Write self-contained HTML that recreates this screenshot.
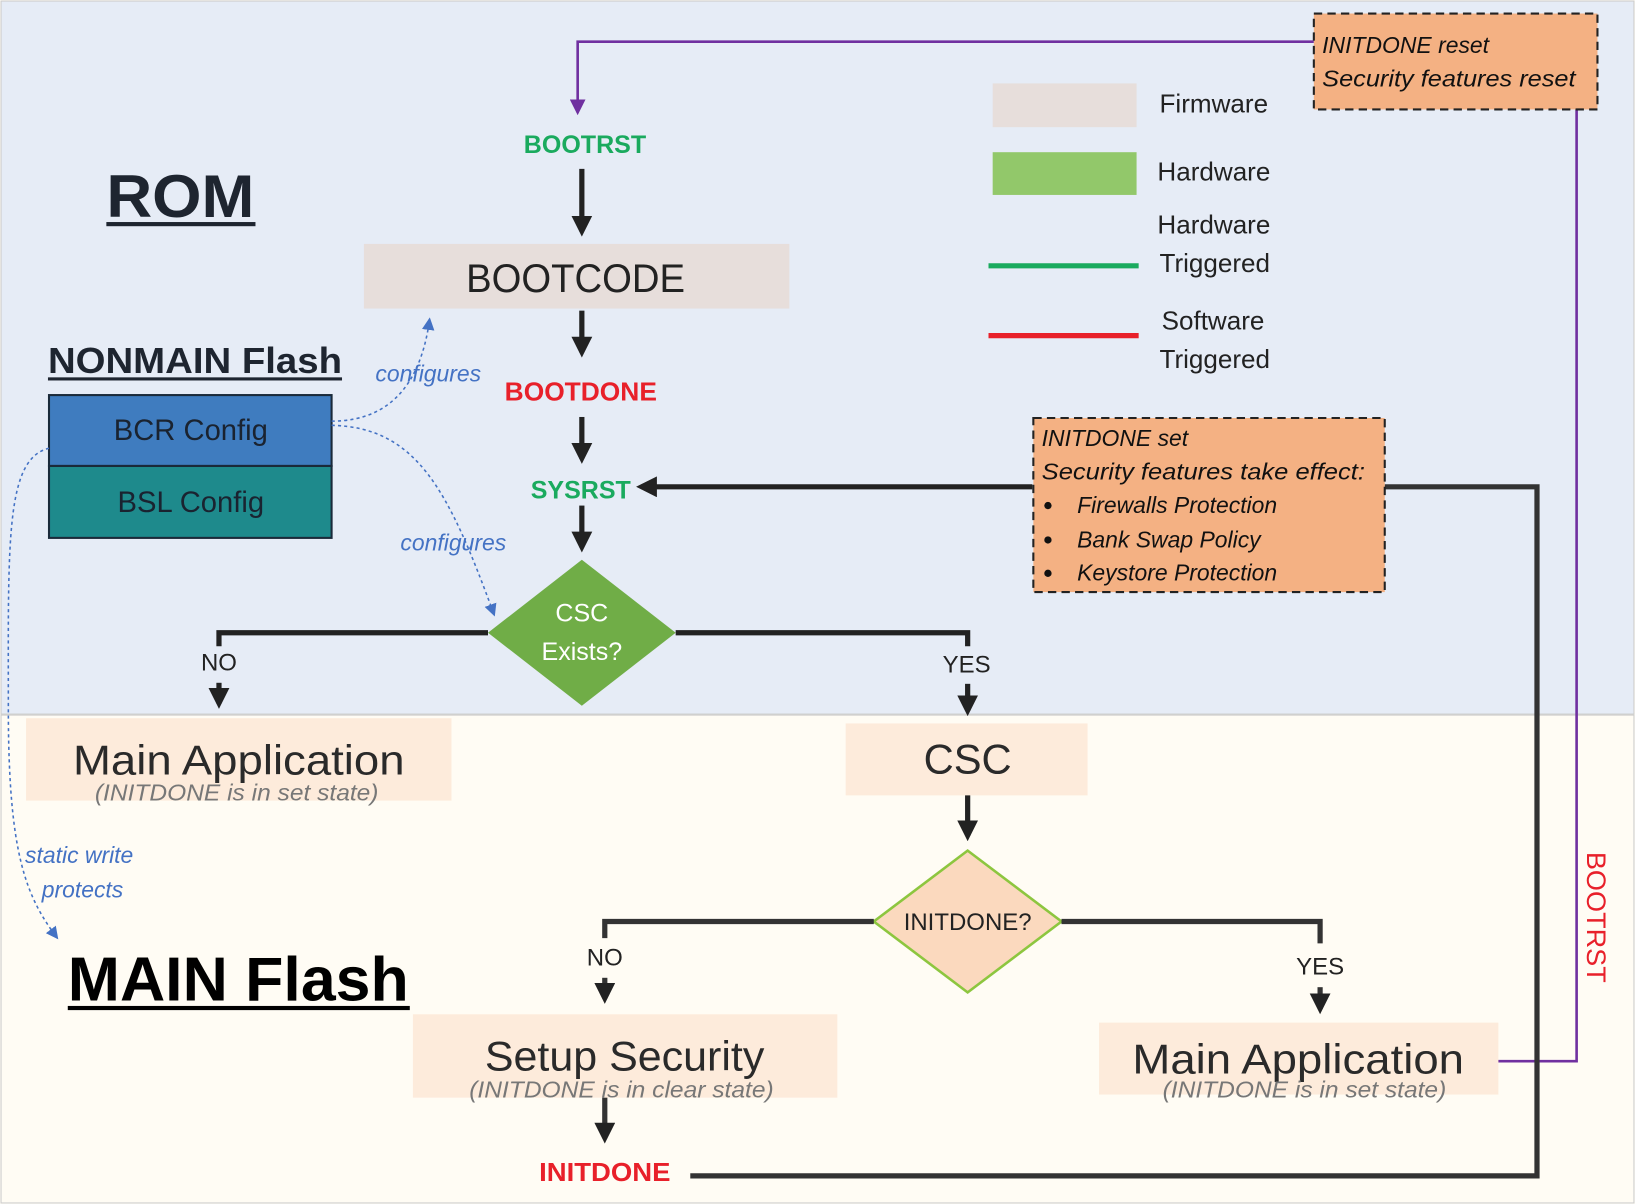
<!DOCTYPE html>
<html><head><meta charset="utf-8"><style>
html,body{margin:0;padding:0;background:#fff;}
svg{display:block;}
text{font-family:"Liberation Sans",sans-serif;}
</style></head><body>
<svg width="1635" height="1204" viewBox="0 0 1568 1155" preserveAspectRatio="none" xmlns="http://www.w3.org/2000/svg">
<defs>
<marker id="ak" markerWidth="4" markerHeight="4" refX="3" refY="2" orient="auto" markerUnits="strokeWidth"><path d="M0,0 L4,2 L0,4 z" fill="#222"/></marker>
<marker id="ap" markerWidth="6" markerHeight="6" refX="5" refY="3" orient="auto" markerUnits="strokeWidth"><path d="M0,0 L6,3 L0,6 z" fill="#7030A0"/></marker>
<marker id="ab" markerWidth="8" markerHeight="8" refX="7" refY="4" orient="auto" markerUnits="strokeWidth"><path d="M0,0 L8,4 L0,8 z" fill="#4472C4"/></marker>
</defs>
<rect x="0" y="0" width="1568" height="1155" fill="#FFFCF4"/>
<rect x="1" y="1" width="1566" height="684" fill="#E6ECF6" stroke="#ccc"/>
<rect x="1" y="686" width="1566" height="468" fill="#FFFCF4" stroke="#ccc"/>

<!-- purple -->
<polyline points="1260,40 554,40 554,108" fill="none" stroke="#7030A0" stroke-width="2.5" marker-end="url(#ap)"/>
<polyline points="1512,105 1512,1018 1405,1018" fill="none" stroke="#7030A0" stroke-width="2.5"/>
<rect x="1260" y="13" width="272" height="92" fill="#F4B183" stroke="#222" stroke-width="2" stroke-dasharray="8,5"/>
<text x="1268" y="51" font-size="22" font-style="italic" fill="#111">INITDONE reset</text>
<text x="1268" y="83" font-size="22" font-style="italic" fill="#111" textLength="243" lengthAdjust="spacingAndGlyphs">Security features reset</text>

<!-- legend -->
<rect x="952" y="80" width="138" height="42" fill="#E7DEDB"/>
<text x="1112" y="108" font-size="25" fill="#222">Firmware</text>
<rect x="952" y="146" width="138" height="41" fill="#92C86A"/>
<text x="1110" y="173" font-size="25" fill="#222">Hardware</text>
<text x="1110" y="224" font-size="25" fill="#222">Hardware</text>
<text x="1112" y="261" font-size="25" fill="#222">Triggered</text>
<line x1="948" y1="255" x2="1092" y2="255" stroke="#1AAA5E" stroke-width="5"/>
<text x="1114" y="316" font-size="25" fill="#222">Software</text>
<text x="1112" y="353" font-size="25" fill="#222">Triggered</text>
<line x1="948" y1="322" x2="1092" y2="322" stroke="#E8202A" stroke-width="5"/>

<!-- titles -->
<text x="102" y="208" font-size="58" font-weight="bold" fill="#1E2530" textLength="142" lengthAdjust="spacingAndGlyphs">ROM</text>
<rect x="102" y="213" width="143" height="4" fill="#1E2530"/>
<text x="46" y="358" font-size="35" font-weight="bold" fill="#1E2530" textLength="282" lengthAdjust="spacingAndGlyphs">NONMAIN Flash</text>
<rect x="46" y="362" width="282" height="3" fill="#1E2530"/>
<text x="65" y="960" font-size="60" font-weight="bold" fill="#000" textLength="327" lengthAdjust="spacingAndGlyphs">MAIN Flash</text>
<rect x="65" y="965" width="328" height="4" fill="#000"/>

<!-- main flow top -->
<text x="561" y="147" font-size="24" font-weight="bold" fill="#1AAA5E" text-anchor="middle">BOOTRST</text>
<line x1="558" y1="162" x2="558" y2="222" stroke="#222" stroke-width="5" marker-end="url(#ak)"/>
<rect x="349" y="234" width="408" height="62" fill="#E7DEDB"/>
<text x="552" y="280" font-size="38" fill="#222" text-anchor="middle" textLength="210" lengthAdjust="spacingAndGlyphs">BOOTCODE</text>
<line x1="558" y1="298" x2="558" y2="338" stroke="#222" stroke-width="5" marker-end="url(#ak)"/>
<text x="557" y="384" font-size="25" font-weight="bold" fill="#E8202A" text-anchor="middle" textLength="146" lengthAdjust="spacingAndGlyphs">BOOTDONE</text>
<line x1="558" y1="400" x2="558" y2="440" stroke="#222" stroke-width="5" marker-end="url(#ak)"/>
<text x="557" y="478" font-size="24" font-weight="bold" fill="#1AAA5E" text-anchor="middle">SYSRST</text>
<line x1="558" y1="485" x2="558" y2="525" stroke="#222" stroke-width="5" marker-end="url(#ak)"/>

<polygon points="558,537 648,607 558,677 468,607" fill="#70AD47"/>
<text x="558" y="596" font-size="24" fill="#fff" text-anchor="middle">CSC</text>
<text x="558" y="633" font-size="24" fill="#fff" text-anchor="middle">Exists?</text>

<polyline points="468,607 210,607 210,620" fill="none" stroke="#222" stroke-width="5"/>
<text x="210" y="643" font-size="23" fill="#222" text-anchor="middle">NO</text>
<line x1="210" y1="655" x2="210" y2="675" stroke="#222" stroke-width="5" marker-end="url(#ak)"/>
<polyline points="648,607 928,607 928,620" fill="none" stroke="#222" stroke-width="5"/>
<text x="927" y="645" font-size="23" fill="#222" text-anchor="middle">YES</text>
<line x1="928" y1="656" x2="928" y2="682" stroke="#222" stroke-width="5" marker-end="url(#ak)"/>

<!-- SYSRST loop -->
<line x1="990" y1="467" x2="615" y2="467" stroke="#222" stroke-width="5" marker-end="url(#ak)"/>
<polyline points="1328,467 1474,467 1474,1128 662,1128" fill="none" stroke="#333" stroke-width="5"/>
<rect x="991" y="401" width="337" height="167" fill="#F4B183" stroke="#222" stroke-width="2" stroke-dasharray="8,5"/>
<g font-size="22" font-style="italic" fill="#111">
<text x="999" y="428">INITDONE set</text>
<text x="999" y="460" textLength="310" lengthAdjust="spacingAndGlyphs">Security features take effect:</text>
<text x="1033" y="492">Firewalls Protection</text>
<text x="1033" y="525">Bank Swap Policy</text>
<text x="1033" y="557">Keystore Protection</text>
</g>
<circle cx="1005" cy="485" r="3.5" fill="#111"/><circle cx="1005" cy="518" r="3.5" fill="#111"/><circle cx="1005" cy="550" r="3.5" fill="#111"/>

<!-- NONMAIN boxes -->
<rect x="47" y="379" width="271" height="68" fill="#3F7CBF" stroke="#1a2a3a" stroke-width="2"/>
<rect x="47" y="447" width="271" height="69" fill="#1E8A8C" stroke="#1a2a3a" stroke-width="2"/>
<text x="183" y="422" font-size="28" fill="#1a2330" text-anchor="middle">BCR Config</text>
<text x="183" y="491" font-size="28" fill="#1a2330" text-anchor="middle">BSL Config</text>

<path d="M318,404 C380,404 405,360 412,306" fill="none" stroke="#4472C4" stroke-width="1.5" stroke-dasharray="3,3" marker-end="url(#ab)"/>
<text x="360" y="366" font-size="22" font-style="italic" fill="#4472C4">configures</text>
<path d="M318,408 C400,410 430,470 474,590" fill="none" stroke="#4472C4" stroke-width="1.5" stroke-dasharray="3,3" marker-end="url(#ab)"/>
<text x="384" y="528" font-size="22" font-style="italic" fill="#4472C4">configures</text>
<path d="M47,430 C5,440 8,520 8,680 C8,820 25,860 55,900" fill="none" stroke="#4472C4" stroke-width="1.5" stroke-dasharray="3,3" marker-end="url(#ab)"/>
<text x="24" y="828" font-size="22" font-style="italic" fill="#4472C4">static write</text>
<text x="40" y="861" font-size="22" font-style="italic" fill="#4472C4">protects</text>

<!-- bottom -->
<rect x="25" y="689" width="408" height="79" fill="#FDEBDB"/>
<text x="229" y="743" font-size="40" fill="#2a2a2a" text-anchor="middle" textLength="318" lengthAdjust="spacingAndGlyphs">Main Application</text>
<text x="227" y="768" font-size="22" font-style="italic" fill="#777" text-anchor="middle" textLength="272" lengthAdjust="spacingAndGlyphs">(INITDONE is in set state)</text>

<rect x="811" y="694" width="232" height="69" fill="#FDEBDB"/>
<text x="928" y="742" font-size="40" fill="#2a2a2a" text-anchor="middle">CSC</text>
<line x1="928" y1="763" x2="928" y2="802" stroke="#222" stroke-width="5" marker-end="url(#ak)"/>

<polygon points="928,816 1018,884 928,952 838,884" fill="#FBD9BE" stroke="#8DC63F" stroke-width="2.5"/>
<text x="928" y="892" font-size="23" fill="#222" text-anchor="middle">INITDONE?</text>
<polyline points="838,884 580,884 580,900" fill="none" stroke="#333" stroke-width="5"/>
<text x="580" y="926" font-size="23" fill="#222" text-anchor="middle">NO</text>
<line x1="580" y1="938" x2="580" y2="958" stroke="#333" stroke-width="5" marker-end="url(#ak)"/>
<polyline points="1018,884 1266,884 1266,905" fill="none" stroke="#333" stroke-width="5"/>
<text x="1266" y="935" font-size="23" fill="#222" text-anchor="middle">YES</text>
<line x1="1266" y1="947" x2="1266" y2="968" stroke="#333" stroke-width="5" marker-end="url(#ak)"/>

<rect x="396" y="973" width="407" height="80" fill="#FDEBDB"/>
<text x="599" y="1027" font-size="40" fill="#2a2a2a" text-anchor="middle" textLength="268" lengthAdjust="spacingAndGlyphs">Setup Security</text>
<text x="596" y="1053" font-size="22" font-style="italic" fill="#777" text-anchor="middle" textLength="292" lengthAdjust="spacingAndGlyphs">(INITDONE is in clear state)</text>
<line x1="580" y1="1053" x2="580" y2="1092" stroke="#333" stroke-width="5" marker-end="url(#ak)"/>
<text x="580" y="1133" font-size="25" font-weight="bold" fill="#E8202A" text-anchor="middle" textLength="126" lengthAdjust="spacingAndGlyphs">INITDONE</text>

<rect x="1054" y="981" width="383" height="69" fill="#FDEBDB"/>
<text x="1245" y="1030" font-size="40" fill="#2a2a2a" text-anchor="middle" textLength="318" lengthAdjust="spacingAndGlyphs">Main Application</text>
<text x="1251" y="1053" font-size="22" font-style="italic" fill="#777" text-anchor="middle" textLength="272" lengthAdjust="spacingAndGlyphs">(INITDONE is in set state)</text>

<text transform="translate(1522,880) rotate(90)" font-size="26" fill="#E8202A" text-anchor="middle">BOOTRST</text>
</svg>
</body></html>
